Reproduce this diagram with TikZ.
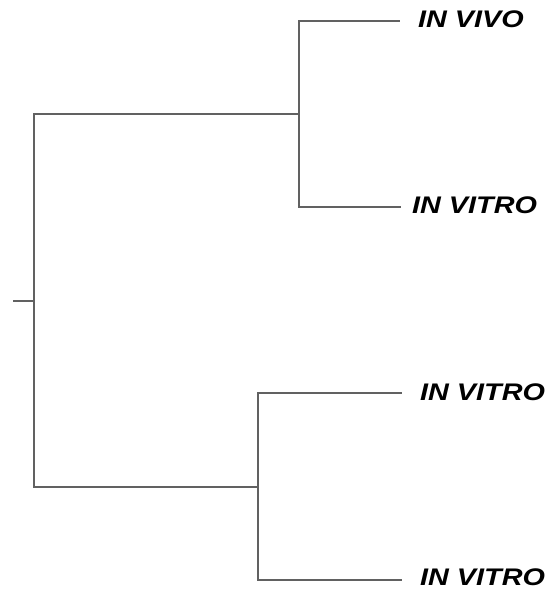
\documentclass[tikz,border=0pt]{standalone}
\usepackage{fontspec}
\newfontfamily\leaffont[FakeStretch=1.2]{Liberation Sans}
\usetikzlibrary{positioning}

\begin{document}
\begin{tikzpicture}[x=1pt,y=-1pt,
  leaf/.style={anchor=west,inner sep=0pt,font=\leaffont\fontsize{24}{24}\selectfont\bfseries\itshape},
  branch/.style={draw=black!62,line width=1.4pt}]
\useasboundingbox (0,0) rectangle (552,590);
% internal nodes of the tree
\coordinate (stub) at (13,301);
\coordinate (root) at (34,301);
\coordinate (upper) at (299,114);
\coordinate (lower) at (258,487);
% leaf tips
\coordinate (t1) at (400,21);
\coordinate (t2) at (401,207);
\coordinate (t3) at (402,393);
\coordinate (t4) at (402,580);
\node[leaf] (vivo) at (418,19) {IN VIVO};
\node[leaf] (vitroA) at (412,205) {IN VITRO};
\node[leaf] (vitroB) at (420,392) {IN VITRO};
\node[leaf] (vitroC) at (420,577) {IN VITRO};
\draw[branch] (stub) -- (root);
\draw[branch] (root) |- (upper);
\draw[branch] (root) |- (lower);
\draw[branch] (upper) |- (t1);
\draw[branch] (upper) |- (t2);
\draw[branch] (lower) |- (t3);
\draw[branch] (lower) |- (t4);
\end{tikzpicture}
\end{document}
